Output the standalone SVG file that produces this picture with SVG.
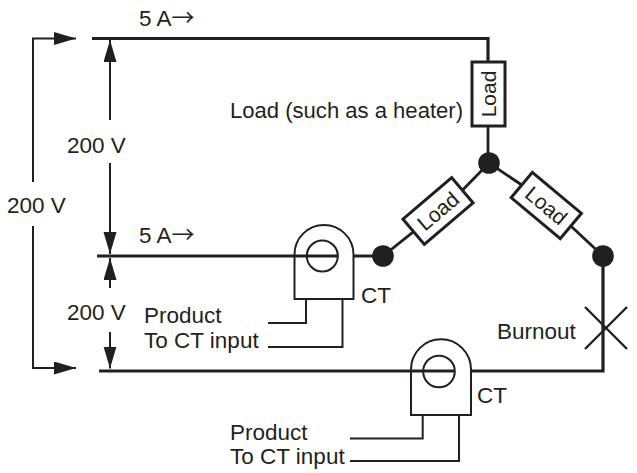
<svg xmlns="http://www.w3.org/2000/svg" width="637" height="473" viewBox="0 0 637 473">
<defs>
<marker id="ah" markerUnits="userSpaceOnUse" markerWidth="24" markerHeight="14" refX="22" refY="6.5" orient="auto">
<path d="M0,0 L22,6.5 L0,13 z" fill="#231f20"/>
</marker>
</defs>
<style>
text{font-family:"Liberation Sans",Arial,Helvetica,sans-serif;fill:#231f20;font-size:22.5px}
.arr{font-family:"Noto Sans CJK JP","DejaVu Sans",sans-serif;font-size:23px}
.wire{fill:none;stroke:#231f20;stroke-width:3.2}
.lw{fill:none;stroke:#231f20;stroke-width:2.8}
.thin{fill:none;stroke:#231f20;stroke-width:2}
.x{fill:none;stroke:#231f20;stroke-width:2.4}
.dim{fill:none;stroke:#231f20;stroke-width:2;marker-end:url(#ah)}
.box{fill:#fff;stroke:#231f20;stroke-width:3}
.dot{fill:#231f20}
.lt{font-size:21px}
</style>
<rect width="637" height="473" fill="#fff"/>
<g id="connectors">
<path class="wire" d="M92,38.5 H488 V62"/>
<path class="lw" d="M488,126 V163"/>
<path class="lw" d="M489,163 L462.4,190.3 M413.6,231.7 L383,256"/>
<path class="lw" d="M489,163 L521.8,185 M570.8,226 L603,256"/>
<path class="wire" d="M97,256 H337.8 M353.5,256 H383"/>
<path class="wire" d="M99,371 H454.8 M471,371 H603 V256"/>
<path class="thin" d="M306,299 V323 H268"/>
<path class="thin" d="M342.5,299 V347 H268"/>
<path class="thin" d="M422.7,415 V438.5 H350"/>
<path class="thin" d="M459,415 V461 H350"/>
<path class="dim" d="M33,182 V38.5 H76"/>
<path class="dim" d="M33,226 V368 H76"/>
<path class="dim" d="M110,120 V40"/>
<path class="dim" d="M110,163 V254"/>
<path class="dim" d="M110,288 V258"/>
<path class="dim" d="M110,332 V368.5"/>
</g>
<g id="load-top">
<rect class="box" x="472" y="62" width="33" height="64"/>
<text class="lt" transform="translate(488.5,94) rotate(-90)" x="0" y="7.5" text-anchor="middle">Load</text>
</g>
<g id="load-left">
<g transform="translate(438,211) rotate(-40.4)">
<rect class="box" x="-32" y="-16.5" width="64" height="33"/>
<text class="lt" x="0" y="7.5" text-anchor="middle">Load</text>
</g>
</g>
<g id="load-right">
<g transform="translate(546.3,205.5) rotate(39.9)">
<rect class="box" x="-32" y="-16.5" width="64" height="33"/>
<text class="lt" x="0" y="7.5" text-anchor="middle">Load</text>
</g>
</g>
<g id="node-center"><circle class="dot" cx="489" cy="163" r="10.8"/></g>
<g id="node-left"><circle class="dot" cx="383" cy="256" r="10.8"/></g>
<g id="node-right"><circle class="dot" cx="603" cy="256" r="10.8"/></g>
<g id="ct1">
<path class="thin" d="M294.5,299 V254.5 A29.5,29.5 0 0 1 353.5,254.5 V299 Z"/>
<circle class="thin" cx="322.3" cy="256" r="15.5"/>
<text x="361" y="303">CT</text>
</g>
<g id="ct2">
<path class="thin" d="M411,415 V369.3 A30,30 0 0 1 471,369.3 V415 Z"/>
<circle class="thin" cx="439" cy="371.5" r="15.8"/>
<text x="477" y="403">CT</text>
</g>
<g id="burnout">
<path class="x" d="M585,307 L627,349 M627,307 L585,349"/>
<text x="497" y="339">Burnout</text>
</g>
<g id="labels">
<text x="139" y="26">5 A<tspan class="arr">→</tspan></text>
<text x="139" y="243">5 A<tspan class="arr">→</tspan></text>
<text x="67" y="153">200 V</text>
<text x="7" y="213">200 V</text>
<text x="67" y="320">200 V</text>
<text x="230" y="118" textLength="233" lengthAdjust="spacingAndGlyphs">Load (such as a heater)</text>
<text x="144" y="323">Product</text>
<text x="144" y="348">To CT input</text>
<text x="230" y="440">Product</text>
<text x="230" y="464">To CT input</text>
</g>
</svg>
